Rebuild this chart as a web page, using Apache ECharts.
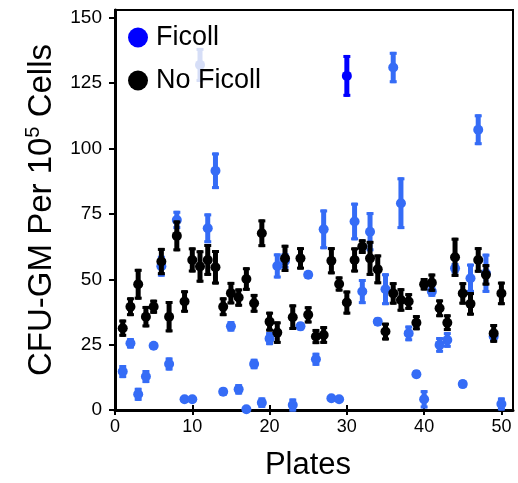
<!DOCTYPE html>
<html lang="en">
  <head>
    <meta charset="UTF-8" />
    <title>CFU-GM per plate</title>
    <script src="https://cdn.jsdelivr.net/npm/echarts@6.0.0/dist/echarts.min.js"></script>
    <style>
      html, body { margin: 0; padding: 0; background: #fff; }
      #main { width: 518px; height: 483px; }
    </style>
  </head>
  <body>
    <div id="main"></div>
    <script>
      var plates = [1, 2, 3, 4, 5, 6, 7, 8, 9, 10, 11, 12, 13, 14, 15, 16, 17, 18, 19, 20,
        21, 22, 23, 24, 25, 26, 27, 28, 29, 30, 31, 32, 33, 34, 35, 36, 37, 38, 39, 40,
        41, 42, 43, 44, 45, 46, 47, 48, 49, 50];

      var ficoll = [14.7, 25.5, 6.0, 12.8, 24.6, 55.0, 17.6, 72.7, 4.1, 4.1,
        132, 69.5, 91.5, 7.0, 32.0, 7.9, 0.3, 17.6, 2.8, 27.3,
        55.1, 57.0, 1.9, 32.0, 51.7, 19.4, 69.1, 4.5, 4.1, 127.8,
        72.1, 45.3, 68.2, 33.8, 46.2, 131.0, 79.1, 29.3, 13.7, 4.1,
        45.3, 24.9, 26.8, 54.2, 9.9, 50.4, 107.2, 52.3, 28.1, 2.3];
      var ficollErr = [2.5, 2, 2.5, 2.5, 1, 4, 2.5, 3.5, 1, 1,
        6.5, 5.7, 7, 1.5, 2, 2, 0.5, 2, 2, 2.5,
        4.8, 3, 2.5, 1.5, 1.5, 2.5, 7.6, 1, 1, 8,
        7.2, 4.8, 7.5, 1.5, 6.1, 6, 9.9, 3, 1.5, 3.5,
        2, 3, 3, 2, 1.5, 5.6, 5.9, 7.5, 2, 2.5];

      var noFicoll = [31.3, 39.5, 48.1, 35.7, 39.5, 56.8, 35.7, 66.6, 41.5, 57.4,
        54.9, 57.4, 54.6, 39.5, 44.7, 43.0, 50.1, 40.8, 67.6, 33.8,
        29.6, 58.0, 35.5, 58.0, 36.4, 28.1, 28.7, 57.1, 48.2, 41.1,
        57.4, 62.5, 58.0, 53.8, 30.0, 44.6, 42.1, 41.5, 33.4, 48.1,
        48.7, 38.9, 33.4, 58.4, 44.6, 40.6, 57.4, 51.7, 29.3, 44.6];
      var noFicollErr = [3.3, 3.6, 5.9, 4.1, 2.7, 5.2, 6.0, 5.9, 4.3, 4.8,
        6.2, 6.1, 6.6, 3.6, 4.3, 3.5, 4.5, 3.6, 5.3, 3.8,
        4.3, 5.2, 4.9, 4.3, 3.3, 2.9, 3.4, 5.2, 2.9, 4.6,
        4.8, 2.8, 6.7, 5.7, 3.4, 4.3, 4.5, 3.2, 2.9, 2.4,
        3.5, 3.4, 3.2, 7.5, 4.3, 4.5, 4.9, 4.1, 3.6, 4.5];

      var xTicks = [0, 10, 20, 30, 40, 50];
      var yTicks = [0, 25, 50, 75, 100, 125, 150];

      var FONT = "'Liberation Sans', Arial, sans-serif";
      var BLUE = "#356cf6";
      // a couple of plates are drawn in a different shade in the original
      var ficollShade = { 11: "#d6def7", 30: "#0000ff" };

      function ficollColor(i) {
        return ficollShade[plates[i]] || BLUE;
      }

      function errorBars(values, errs, colorOf, z) {
        return {
          type: "custom",
          z: z,
          silent: true,
          encode: { x: 0, y: 1 },
          data: values.map(function (v, i) { return [plates[i], v, errs[i]]; }),
          renderItem: function (params, api) {
            var x = api.value(0), y = api.value(1), e = api.value(2);
            var top = api.coord([x, y + e]);
            var bot = api.coord([x, y - e]);
            var c = colorOf(params.dataIndex);
            return {
              type: "group",
              children: [
                { type: "rect", shape: { x: top[0] - 2.5, y: top[1], width: 5, height: bot[1] - top[1] }, style: { fill: c } },
                { type: "rect", shape: { x: top[0] - 3.5, y: top[1], width: 7, height: 3 }, style: { fill: c } },
                { type: "rect", shape: { x: bot[0] - 3.5, y: bot[1] - 3, width: 7, height: 3 }, style: { fill: c } }
              ]
            };
          }
        };
      }

      var myChart = echarts.init(document.getElementById("main"));

      var option = {
        animation: false,
        textStyle: { fontFamily: FONT },
        grid: {
          left: 115, right: 5, top: 10, bottom: 73,
          outerBoundsMode: "none",
          show: true, borderColor: "#000", borderWidth: 2
        },
        legend: {
          orient: "vertical",
          left: 128, top: 24,
          icon: "circle",
          itemWidth: 20, itemHeight: 20, itemGap: 16,
          padding: 0,
          textStyle: { fontSize: 27, color: "#000", fontFamily: FONT, padding: [0, 0, 0, 3] },
          data: [
            { name: "Ficoll", itemStyle: { color: "#0000ff" } },
            { name: "No Ficoll", itemStyle: { color: "#000" } }
          ]
        },
        xAxis: [
          {
            type: "value", min: 0, max: 51.5,
            name: "Plates", nameLocation: "middle", nameGap: 40,
            nameTextStyle: { fontSize: 31, color: "#000", fontFamily: FONT, padding: [0, 12, 0, 0] },
            axisLine: { lineStyle: { color: "#000", width: 3 } },
            axisTick: { show: true, length: 5, lineStyle: { color: "#000", width: 2 }, customValues: xTicks },
            axisLabel: { fontSize: 18, color: "#000", margin: 8, customValues: xTicks },
            splitLine: { show: false }
          },
          {
            type: "value", min: 0, max: 51.5, position: "bottom",
            axisLine: { show: false },
            axisTick: { show: true, inside: true, length: 5, lineStyle: { color: "#000", width: 2 }, customValues: xTicks },
            axisLabel: { show: false },
            splitLine: { show: false }
          }
        ],
        yAxis: {
          type: "value", min: 0, max: 153,
          name: "{a|CFU-GM Per 10}{s|5}{a| Cells}",
          nameLocation: "middle", nameGap: 55,
          nameTextStyle: {
            color: "#000",
            rich: {
              a: { fontSize: 33, fontFamily: FONT, color: "#000", lineHeight: 37 },
              s: { fontSize: 20, fontFamily: FONT, color: "#000", verticalAlign: "top", lineHeight: 37 }
            }
          },
          axisLine: { lineStyle: { color: "#000", width: 3 } },
          axisTick: { show: true, length: 6, lineStyle: { color: "#000", width: 2 }, customValues: yTicks },
          axisLabel: { fontSize: 19, color: "#000", margin: 13, customValues: yTicks },
          splitLine: { show: false }
        },
        series: [
          errorBars(ficoll, ficollErr, ficollColor, 1),
          {
            name: "Ficoll",
            type: "scatter",
            z: 2,
            symbolSize: 10,
            itemStyle: { color: BLUE, opacity: 1 },
            data: ficoll.map(function (v, i) {
              return { value: [plates[i], v], itemStyle: { color: ficollColor(i) } };
            })
          },
          errorBars(noFicoll, noFicollErr, function () { return "#000"; }, 3),
          {
            name: "No Ficoll",
            type: "scatter",
            z: 4,
            symbolSize: 10,
            itemStyle: { color: "#000", opacity: 1 },
            data: noFicoll.map(function (v, i) { return [plates[i], v]; })
          }
        ]
      };

      myChart.setOption(option);
    </script>
  </body>
</html>
